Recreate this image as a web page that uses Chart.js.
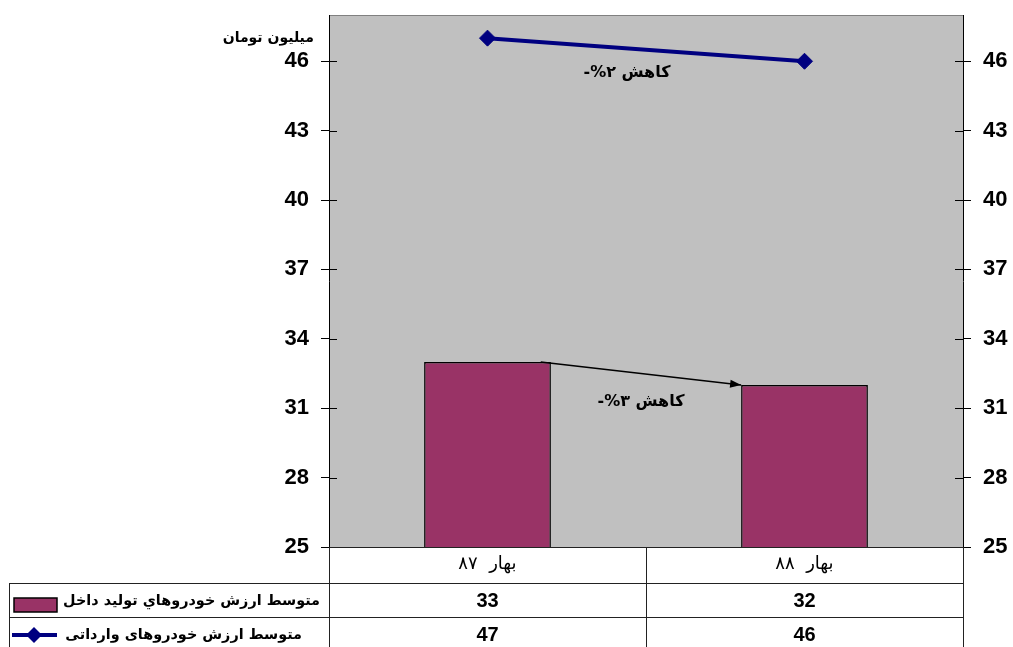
<!DOCTYPE html>
<html>
<head>
<meta charset="utf-8">
<script src="https://cdn.jsdelivr.net/npm/chart.js@4.4.1/dist/chart.umd.min.js"></script>
<style>
  html, body { margin: 0; padding: 0; background: #fff; }
  #wrap { width: 1013px; height: 647px; position: relative; }
</style>
</head>
<body>
<div id="wrap"><canvas id="carChart" width="1013" height="647"></canvas></div>
<script>
const categories = ['بهار ۸۷', 'بهار ۸۸'];
const domesticLabel = 'متوسط ارزش خودروهاي توليد داخل';
const importedLabel = 'متوسط ارزش خودروهای وارداتی';
const domesticValues = [33, 32];
const importedValues = [47, 46];
const tickValues = [25, 28, 31, 34, 37, 40, 43, 46];
const unitLabel = 'میلیون تومان';
const domesticNote = '-%۳ کاهش';
const importedNote = '-%۲ کاهش';

const FONT = '"Liberation Sans", Arial, "DejaVu Sans", sans-serif';
const ARFONT = '"DejaVu Sans", "Liberation Sans", sans-serif';
const MAROON = '#993366';
const NAVY = '#000080';

const ctx = document.getElementById('carChart').getContext('2d');

// gray plot background + plot frame
const plotBackground = {
    id: 'plotBackground',
    beforeDraw(chart) {
        const { ctx, chartArea: a } = chart;
        ctx.save();
        ctx.fillStyle = '#C0C0C0';
        ctx.fillRect(a.left, a.top, a.right - a.left, a.bottom - a.top);
        ctx.strokeStyle = '#808080';
        ctx.lineWidth = 1;
        ctx.beginPath();
        ctx.moveTo(a.left, a.top + 0.5);
        ctx.lineTo(a.right, a.top + 0.5);
        ctx.stroke();
        ctx.restore();
    }
};

// tick marks crossing the axis lines, unit label, notes, arrow, data table
const extras = {
    id: 'extras',
    afterDraw(chart) {
        const { ctx, chartArea: a, scales } = chart;
        const y = scales.y;
        const x = scales.x;
        ctx.save();

        // inner half of tick marks
        ctx.strokeStyle = '#000';
        ctx.lineWidth = 1;
        tickValues.forEach(v => {
            const py = Math.round(y.getPixelForValue(v)) + 0.5;
            ctx.beginPath();
            ctx.moveTo(a.left, py); ctx.lineTo(a.left + 8, py);
            ctx.moveTo(a.right - 8, py); ctx.lineTo(a.right, py);
            ctx.stroke();
        });

        // unit label
        ctx.fillStyle = '#000';
        ctx.font = 'bold 14px ' + ARFONT;
        ctx.textAlign = 'right';
        ctx.textBaseline = 'middle';
        ctx.fillText(unitLabel, a.left - 15, y.getPixelForValue(47.0));

        // arrow between the bars
        const bars = chart.getDatasetMeta(0).data;
        const b0 = bars[0], b1 = bars[1];
        const sx = b0.x + b0.width * 0.42, sy = y.getPixelForValue(domesticValues[0]);
        const ex = b1.x - b1.width / 2, ey = y.getPixelForValue(domesticValues[1]);
        ctx.strokeStyle = '#000';
        ctx.lineWidth = 1.5;
        ctx.beginPath();
        ctx.moveTo(sx, sy); ctx.lineTo(ex, ey);
        ctx.stroke();
        const ang = Math.atan2(ey - sy, ex - sx);
        ctx.fillStyle = '#000';
        ctx.beginPath();
        ctx.moveTo(ex, ey);
        ctx.lineTo(ex - 11 * Math.cos(ang) + 4 * Math.sin(ang), ey - 11 * Math.sin(ang) - 4 * Math.cos(ang));
        ctx.lineTo(ex - 11 * Math.cos(ang) - 4 * Math.sin(ang), ey - 11 * Math.sin(ang) + 4 * Math.cos(ang));
        ctx.closePath();
        ctx.fill();

        // notes
        const midX = (x.getPixelForValue(0) + x.getPixelForValue(1)) / 2;
        ctx.font = 'bold 16px ' + ARFONT;
        ctx.textAlign = 'center';
        ctx.direction = 'ltr';
        ctx.fillText(domesticNote, midX - 5, y.getPixelForValue(31.27));
        ctx.fillText(importedNote, midX - 19, y.getPixelForValue(45.48));

        // data table
        const left = 9;
        const r0 = a.bottom, r1 = a.bottom + 36, r2 = a.bottom + 70, r3 = chart.height + 5;
        ctx.strokeStyle = '#222';
        ctx.lineWidth = 1;
        ctx.beginPath();
        [a.left, midX, a.right].forEach(px => {
            const p = Math.round(px) + 0.5;
            ctx.moveTo(p, r0); ctx.lineTo(p, r3);
        });
        ctx.moveTo(left + 0.5, r1); ctx.lineTo(left + 0.5, r3);
        ctx.moveTo(a.left, r0 + 0.5); ctx.lineTo(a.right, r0 + 0.5);
        ctx.moveTo(left, r1 + 0.5); ctx.lineTo(a.right, r1 + 0.5);
        ctx.moveTo(left, r2 + 0.5); ctx.lineTo(a.right, r2 + 0.5);
        ctx.stroke();

        // category header
        ctx.fillStyle = '#000';
        ctx.textAlign = 'center';
        ctx.textBaseline = 'middle';
        ctx.direction = 'rtl';
        ctx.font = '18px ' + ARFONT;
        categories.forEach((c, i) => ctx.fillText(c.replace(' ', '  '), x.getPixelForValue(i), r0 + 17));

        // values
        ctx.direction = 'ltr';
        ctx.font = 'bold 20px ' + FONT;
        domesticValues.forEach((v, i) => ctx.fillText(String(v), x.getPixelForValue(i), (r1 + r2) / 2 + 1));
        importedValues.forEach((v, i) => ctx.fillText(String(v), x.getPixelForValue(i), r2 + 18));

        // row legends
        ctx.direction = 'rtl';
        ctx.textAlign = 'right';
        ctx.font = 'bold 14.4px ' + ARFONT;
        ctx.fillText(domesticLabel, a.left - 9, (r1 + r2) / 2 + 1);
        ctx.fillText(importedLabel, a.left - 27, r2 + 18);

        ctx.fillStyle = MAROON;
        ctx.fillRect(14, r1 + 15, 43, 14);
        ctx.strokeStyle = '#000';
        ctx.lineWidth = 1.5;
        ctx.strokeRect(14, r1 + 15, 43, 14);

        const ly = r2 + 18;
        ctx.strokeStyle = NAVY;
        ctx.lineWidth = 4;
        ctx.beginPath();
        ctx.moveTo(12, ly); ctx.lineTo(57, ly);
        ctx.stroke();
        ctx.fillStyle = NAVY;
        ctx.beginPath();
        ctx.moveTo(34, ly - 8); ctx.lineTo(42, ly); ctx.lineTo(34, ly + 8); ctx.lineTo(26, ly);
        ctx.closePath();
        ctx.fill();

        ctx.restore();
    }
};

const yTicks = {
    color: '#000',
    padding: 12,
    font: { family: FONT, size: 22, weight: 'bold' }
};

const config = {
    type: 'bar',
    data: {
        labels: categories,
        datasets: [{
            type: 'bar',
            label: domesticLabel,
            data: domesticValues,
            backgroundColor: MAROON,
            borderColor: '#000',
            borderWidth: 1.5,
            barPercentage: 0.4,
            categoryPercentage: 1,
            yAxisID: 'y',
            order: 2
        }, {
            type: 'line',
            label: importedLabel,
            data: importedValues,
            borderColor: NAVY,
            backgroundColor: NAVY,
            borderWidth: 4,
            pointStyle: 'rectRot',
            pointRadius: 8,
            pointBorderWidth: 1,
            yAxisID: 'y',
            order: 1
        }]
    },
    options: {
        responsive: false,
        animation: false,
        layout: { padding: { top: 15, bottom: 100, left: 0, right: 0 } },
        scales: {
            x: { display: false },
            y: {
                position: 'left',
                min: 25,
                max: 48,
                afterBuildTicks: s => { s.ticks = tickValues.map(v => ({ value: v })); },
                afterFit: s => { s.width = 329; s.paddingTop = 0; s.paddingBottom = 0; },
                grid: { drawOnChartArea: false, drawTicks: true, tickLength: 8, color: '#000' },
                border: { display: true, color: '#000', width: 1 },
                ticks: yTicks
            },
            y2: {
                position: 'right',
                min: 25,
                max: 48,
                afterBuildTicks: s => { s.ticks = tickValues.map(v => ({ value: v })); },
                afterFit: s => { s.width = 50; s.paddingTop = 0; s.paddingBottom = 0; },
                grid: { drawOnChartArea: false, drawTicks: true, tickLength: 8, color: '#000' },
                border: { display: true, color: '#000', width: 1 },
                ticks: yTicks
            }
        },
        plugins: {
            legend: { display: false },
            tooltip: { enabled: false }
        }
    },
    plugins: [plotBackground, extras]
};

new Chart(ctx, config);
</script>
</body>
</html>
